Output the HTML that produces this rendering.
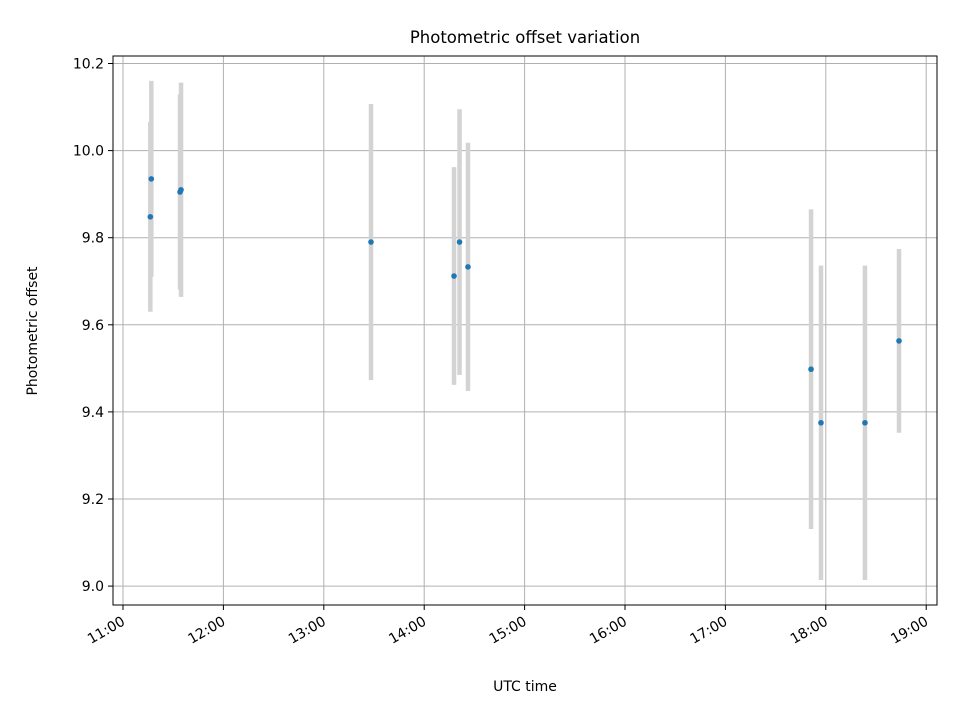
<!DOCTYPE html>
<html><head><meta charset="utf-8"><style>
body{margin:0;background:#fff;}
svg{display:block;font-family:"DejaVu Sans","Liberation Sans",sans-serif;}
</style></head><body>
<svg id="chart" width="960" height="720">
<text x="525" y="43" text-anchor="middle" font-size="16.5">Photometric offset variation</text>
<text x="525" y="691" text-anchor="middle" font-size="14">UTC time</text>
<text transform="translate(37,331) rotate(-90)" text-anchor="middle" font-size="14">Photometric offset</text>
<g id="grid"></g><g id="bars"></g><g id="pts"></g><g id="ticks"></g>
<rect x="113" y="56" width="824" height="549" fill="none" stroke="#000" stroke-width="1"/>
</svg>
<script>
const times=[11.272,11.282,11.568,11.578,13.470,14.297,14.352,14.436,17.853,17.952,18.390,18.729];
const values=[9.848,9.935,9.905,9.910,9.790,9.712,9.790,9.733,9.498,9.375,9.375,9.563];
const errors=[0.218,0.225,0.224,0.246,0.317,0.250,0.305,0.285,0.367,0.361,0.361,0.211];
const yTicks=[9.0,9.2,9.4,9.6,9.8,10.0,10.2];
const xTicks=[11,12,13,14,15,16,17,18,19];
const xTickLabels=["11:00","12:00","13:00","14:00","15:00","16:00","17:00","18:00","19:00"];
const NS="http://www.w3.org/2000/svg";
const X=h=>123+(h-11)*100.4;
const Y=v=>150.6-(v-10)*435.5;
function mk(tag,attrs,parent){const e=document.createElementNS(NS,tag);for(const k in attrs)e.setAttribute(k,attrs[k]);document.getElementById(parent).appendChild(e);return e;}
yTicks.forEach(v=>{
 const y=Y(v);
 const g=mk('line',{x1:113,x2:937,y1:y,y2:y,stroke:'#b0b0b0','stroke-width':1},'grid');
 
 
 mk('line',{x1:108,x2:113,y1:y,y2:y,stroke:'#000'},'ticks');
 const t=mk('text',{x:104,y:y+5,'text-anchor':'end','font-size':14},'ticks');
 t.textContent=v.toFixed(1);
 
 
});
xTicks.forEach((h,i)=>{
 const x=X(h);
 const g=mk('line',{x1:x,x2:x,y1:56,y2:605,stroke:'#b0b0b0','stroke-width':1},'grid');
 
 
 mk('line',{x1:x,x2:x,y1:605,y2:610,stroke:'#000'},'ticks');
 const t=mk('text',{transform:`translate(${x+3},${624}) rotate(-30)`,'text-anchor':'end','font-size':14},'ticks');
 t.textContent=xTickLabels[i];
 
 
});
times.forEach((h,i)=>{
 const x=X(h);
 const b=mk('line',{x1:x,x2:x,y1:Y(values[i]+errors[i]),y2:Y(values[i]-errors[i]),stroke:'#d3d3d3','stroke-width':4.5},'bars');
 
 
});
times.forEach((h,i)=>{
 const c=mk('circle',{cx:X(h),cy:Y(values[i]),r:2.8,fill:'#1f77b4'},'pts');
 
 
});
</script>
</body></html>
